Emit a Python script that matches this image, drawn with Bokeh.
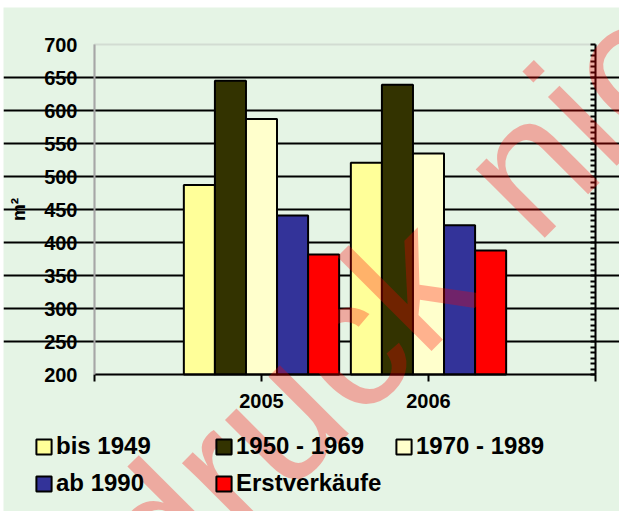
from bokeh.plotting import figure
from bokeh.models import (Range1d, FixedTicker, LinearAxis, Grid,
                          BoxAnnotation, Legend, LegendItem)
from bokeh.core.properties import value
from bokeh.embed import file_html
from bokeh.resources import INLINE
import numpy as np

# ---- data ----
years = ["2005", "2006"]
series_names = ["bis 1949", "1950 - 1969", "1970 - 1989", "ab 1990", "Erstverkäufe"]
bis_1949 = [487, 521]
from_1950_to_1969 = [645, 639]
from_1970_to_1989 = [587, 535]
ab_1990 = [441, 426]
erstverkaeufe = [382, 388]
series_values = [bis_1949, from_1950_to_1969, from_1970_to_1989, ab_1990, erstverkaeufe]
series_colors = ["#FFFF99", "#333300", "#FFFFCC", "#333399", "#FF0000"]
y_ticks = [200, 250, 300, 350, 400, 450, 500, 550, 600, 650, 700]
watermark_words = ["druck", "nicht"]

# ---- layout (pixels inside the canvas) ----
FONT = "Liberation Sans"
BG = "#E5F4E5"
GREY = "#A6A6A6"
W, H = 616, 504
PX_L, PX_R = 91, 592      # canvas x of plot-area left / right
PY_T, PY_B = 37, 367      # canvas y of plot-area top / bottom

x_lo, x_hi = 0, len(years) + 1
y_lo, y_hi = y_ticks[0], y_ticks[-1]
xpp = (x_hi - x_lo) / (PX_R - PX_L)
ypp = (y_hi - y_lo) / (PY_B - PY_T)
X0 = x_lo - PX_L * xpp
Y1 = y_hi + PY_T * ypp

p = figure(width=W, height=H, output_backend="svg", toolbar_location=None,
           x_range=Range1d(X0, x_hi + (W - PX_R) * xpp),
           y_range=Range1d(y_lo - (H - PY_B) * ypp, Y1),
           x_axis_type=None, y_axis_type=None,
           min_border_left=0, min_border_right=0, min_border_top=0, min_border_bottom=0,
           margin=(7, 0, 0, 3))
p.background_fill_color = BG
p.border_fill_color = BG
p.outline_line_color = None

# plot-area border (grey top/left)
p.add_layout(BoxAnnotation(left=x_lo, right=x_hi, bottom=y_lo, top=y_hi,
                           fill_alpha=0, line_color=GREY, line_width=2, level="underlay"))

# horizontal grid
p.add_layout(Grid(dimension=1, ticker=FixedTicker(ticks=y_ticks[1:-1]), bounds=(x_lo, x_hi),
                  grid_line_color="black", grid_line_width=2))

# bars
bw = 0.186
n = len(series_names)
renderers = []
for j, (name, vals, col) in enumerate(zip(series_names, series_values, series_colors)):
    xs = np.arange(1, len(years) + 1) + (j - (n - 1) / 2) * bw
    r = p.vbar(x=xs, top=vals, bottom=y_lo, width=bw, fill_color=col,
               line_color="black", line_width=2)
    renderers.append(r)

# left axis
ya = LinearAxis(ticker=FixedTicker(ticks=y_ticks), fixed_location=x_lo, bounds=(y_lo, y_hi))
ya.major_tick_out = 0
ya.major_tick_in = 0
ya.minor_tick_out = 0
ya.minor_tick_in = 0
ya.axis_line_color = GREY
ya.axis_line_width = 2
ya.major_label_text_font = FONT
ya.major_label_text_font_style = "bold"
ya.major_label_text_font_size = "20px"
ya.major_label_text_color = "black"
ya.major_label_standoff = 17
ya.axis_label = "m²"
ya.axis_label_text_font = FONT
ya.axis_label_text_font_style = "bold"
ya.axis_label_text_font_size = "19px"
ya.axis_label_text_color = "black"
ya.axis_label_standoff = 12
p.add_layout(ya, "left")

# bottom axis: labelled ticks at the years, plain ticks at the plot-area ends
year_pos = list(range(1, len(years) + 1))
xa = LinearAxis(ticker=FixedTicker(ticks=year_pos, minor_ticks=[x_lo, x_hi]),
                fixed_location=y_lo, bounds=(x_lo, x_hi),
                major_label_overrides={pos: yr for pos, yr in zip(year_pos, years)})
xa.major_tick_out = 7
xa.major_tick_in = 0
xa.minor_tick_out = 7
xa.minor_tick_in = 0
xa.axis_line_color = "black"
xa.axis_line_width = 2
xa.major_tick_line_width = 2
xa.minor_tick_line_width = 2
xa.major_tick_line_color = "black"
xa.minor_tick_line_color = "black"
xa.major_label_text_font = FONT
xa.major_label_text_font_style = "bold"
xa.major_label_text_font_size = "20px"
xa.major_label_text_color = "black"
xa.major_label_standoff = 12
p.add_layout(xa, "below")

# right axis: tick marks only (six per 50 units), no labels
right_ticks = list(np.linspace(y_lo, y_hi, 6 * (len(y_ticks) - 1) + 1))
ra = LinearAxis(ticker=FixedTicker(ticks=[], minor_ticks=right_ticks),
                fixed_location=x_hi, bounds=(y_lo, y_hi))
ra.axis_line_color = "black"
ra.axis_line_width = 2
ra.major_tick_in = 0
ra.major_tick_out = 0
ra.minor_tick_in = 5
ra.minor_tick_out = 0
ra.minor_tick_line_width = 2
ra.minor_tick_line_color = "black"
ra.major_label_standoff = 0
p.add_layout(ra, "right")

# legend
lg = Legend(items=[LegendItem(label=nm, renderers=[r]) for nm, r in zip(series_names, renderers)],
            location=(31, 14), orientation="horizontal", ncols=3,
            padding=0, margin=0, spacing=9, border_line_color=None,
            background_fill_alpha=0, glyph_width=19, glyph_height=19, label_width=149,
            label_height=28, label_standoff=3, label_text_font=FONT,
            label_text_font_style="bold", label_text_font_size="24px",
            label_text_color="black")
p.add_layout(lg, "center")

# watermark: two words on one 45-degree line (anchors in canvas px)
wm_anchor_px = [(439, 242), (487, 194)]
wm_align = ["right", "left"]
for word, (ax, ay), al in zip(watermark_words, wm_anchor_px, wm_align):
    p.text(x=[X0 + ax * xpp], y=[Y1 - ay * ypp], text=[word], angle=45, angle_units="deg",
           text_font=value(FONT), text_font_size=value("184px"), text_color="#FF0000",
           text_alpha=0.3, text_align=al, text_baseline="alphabetic", level="overlay")

open("out.html", "w").write(file_html(p, INLINE))
